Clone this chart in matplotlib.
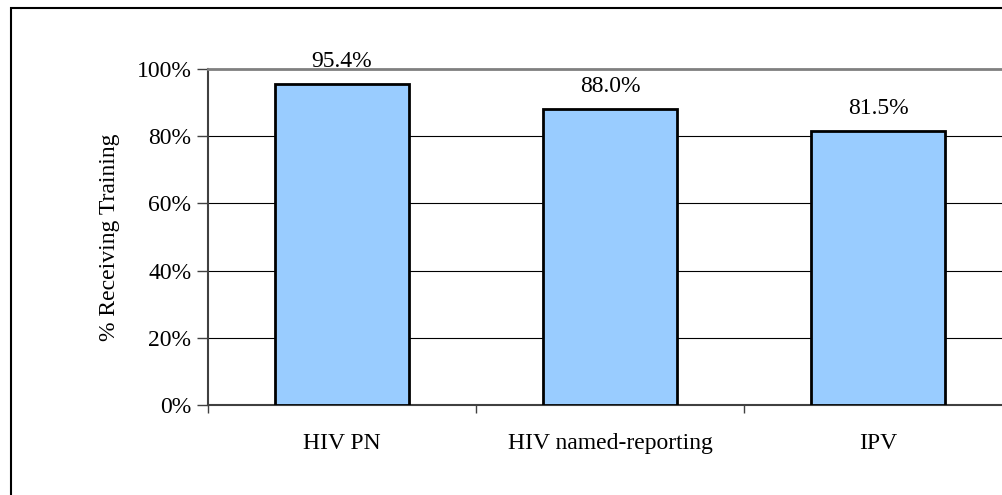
import matplotlib.pyplot as plt
from matplotlib.patches import Rectangle
from matplotlib.ticker import FuncFormatter

plt.rcParams['font.family'] = ['Liberation Serif', 'DejaVu Serif']

categories = ['HIV PN', 'HIV named-reporting', 'IPV']
values = [95.4, 88.0, 81.5]
labels = ['95.4%', '88.0%', '81.5%']
yticks = [0, 20, 40, 60, 80, 100]

fig = plt.figure(figsize=(10.02, 4.95), dpi=100)

# outer chart border (cropped at right and bottom in the original)
fig.patches.append(Rectangle((11 / 1002, -0.1), 1.2, 1 - 8 / 495 + 0.1,
                             transform=fig.transFigure, fill=False,
                             edgecolor='black', linewidth=1.5))

ax = fig.add_axes([208 / 1002, 90 / 495, 804 / 1002, 336 / 495])

x = list(range(len(categories)))
ax.bar(x, values, width=0.5, color='#99CCFF', edgecolor='black',
       linewidth=2, zorder=3)

for xi, v, lab in zip(x, values, labels):
    ax.annotate(lab, (xi, v), xytext=(0, 9), textcoords='offset points',
                ha='center', va='bottom', fontsize=17)

ax.set_xlim(-0.5, len(categories) - 0.5)
ax.set_ylim(0, 100)
ax.set_yticks(yticks)
ax.yaxis.set_major_formatter(FuncFormatter(lambda v, p: f'{int(v)}%'))
ax.tick_params(axis='y', labelsize=17, length=8, width=1, direction='out',
               color='#404040', pad=4)

# category labels centred, ticks at category boundaries
ax.set_xticks(x)
ax.set_xticklabels(categories, fontsize=17)
ax.tick_params(axis='x', length=0, pad=20)
ax.set_xticks([-0.5, 0.5, 1.5, 2.5], minor=True)
ax.tick_params(axis='x', which='minor', length=6, width=1, direction='out',
               color='#404040')

ax.grid(axis='y', color='black', linewidth=0.8, zorder=0)
ax.set_axisbelow(True)

ax.spines['right'].set_visible(False)
ax.spines['top'].set_color('#808080')
ax.spines['top'].set_linewidth(2)
ax.spines['left'].set_color('#404040')
ax.spines['left'].set_linewidth(1.5)
ax.spines['bottom'].set_color('#404040')
ax.spines['bottom'].set_linewidth(1.5)

ax.set_ylabel('% Receiving Training', fontsize=17, labelpad=12)

fig.savefig('out.png', dpi=100)
